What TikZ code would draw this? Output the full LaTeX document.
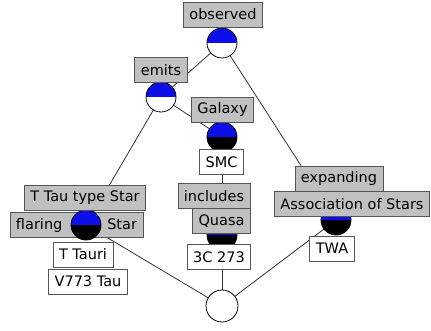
\documentclass[tikz,border=0pt]{standalone}
\usepackage{fontspec}
\setmainfont{DejaVu Sans}
\definecolor{cblue}{RGB}{14,14,235}
\definecolor{lgray}{RGB}{192,192,192}
\definecolor{bgray}{RGB}{85,85,85}
\begin{document}
\begin{tikzpicture}[x=1pt,y=-1pt,
  every node/.style={font=\fontsize{14.5}{15}\selectfont},
  edge/.style={draw=black!80, line width=0.8pt},
  concept/.style={circle, draw=black, line width=0.8pt, minimum size=30pt, inner sep=0pt},
  topblue/.style={path picture={\fill[cblue] (path picture bounding box.west) rectangle (path picture bounding box.north east);}},
  bw/.style={concept, fill=white, topblue},
  bb/.style={concept, fill=black, topblue},
  wc/.style={concept, fill=white, minimum size=32pt},
  attr/.style={draw=bgray, line width=0.8pt, fill=lgray, minimum height=25pt, inner xsep=6pt, inner ysep=0pt},
  obj/.style={draw=bgray, line width=0.8pt, fill=white, minimum height=25pt, inner xsep=6pt, inner ysep=0pt}]
\useasboundingbox[fill=white] (0,0) rectangle (431,331);
% concept coordinates
\coordinate (p1) at (222,43);
\coordinate (p2) at (161,97);
\coordinate (p3) at (222,137);
\coordinate (p4) at (222,235);
\coordinate (p5) at (336,220);
\coordinate (p6) at (86,225);
\coordinate (p7) at (222,306);
% edges
\draw[edge] (p1) -- (p2);
\draw[edge] (p1) -- (p5);
\draw[edge] (p2) -- (p3);
\draw[edge] (p2) -- (p6);
\draw[edge] (p3) -- (p4);
\draw[edge] (p4) -- (p7);
\draw[edge] (p5) -- (p7);
\draw[edge] (p6) -- (p7);
% box behind c6
\node[attr, minimum width=133pt] (flaring) at (76.5,225) {\makebox[121pt]{flaring\hfill Star}};
% circles
\node[bw] (c1) at (p1) {};
\node[bw] (c2) at (p2) {};
\node[bb] (c3) at (p3) {};
\node[bb] (c4) at (p4) {};
\node[bb] (c5) at (p5) {};
\node[bb] (c6) at (p6) {};
\node[wc] (c7) at (p7) {};
% labels
\node[attr] (observed) at (223,14.5) {observed};
\node[attr] (emits) at (161,70) {emits};
\node[attr] (galaxy) at (222.5,109.5) {Galaxy};
\node[obj] (smc) at (221.5,162) {SMC};
\node[attr] (includes) at (214,196) {includes};
\node[attr] (quasa) at (221.5,221) {Quasa};
\node[obj] (3c) at (219,257) {3C 273};
\node[attr] (expanding) at (339,179) {expanding};
\node[attr] (assoc) at (352,204) {Association of Stars};
\node[obj] (twa) at (332,248.5) {TWA};
\node[attr] (ttau) at (85,197.5) {T Tau type Star};
\node[obj] (ttauri) at (83,254.5) {T Tauri};
\node[obj] (v773) at (88,281.5) {V773 Tau};
\end{tikzpicture}
\end{document}
